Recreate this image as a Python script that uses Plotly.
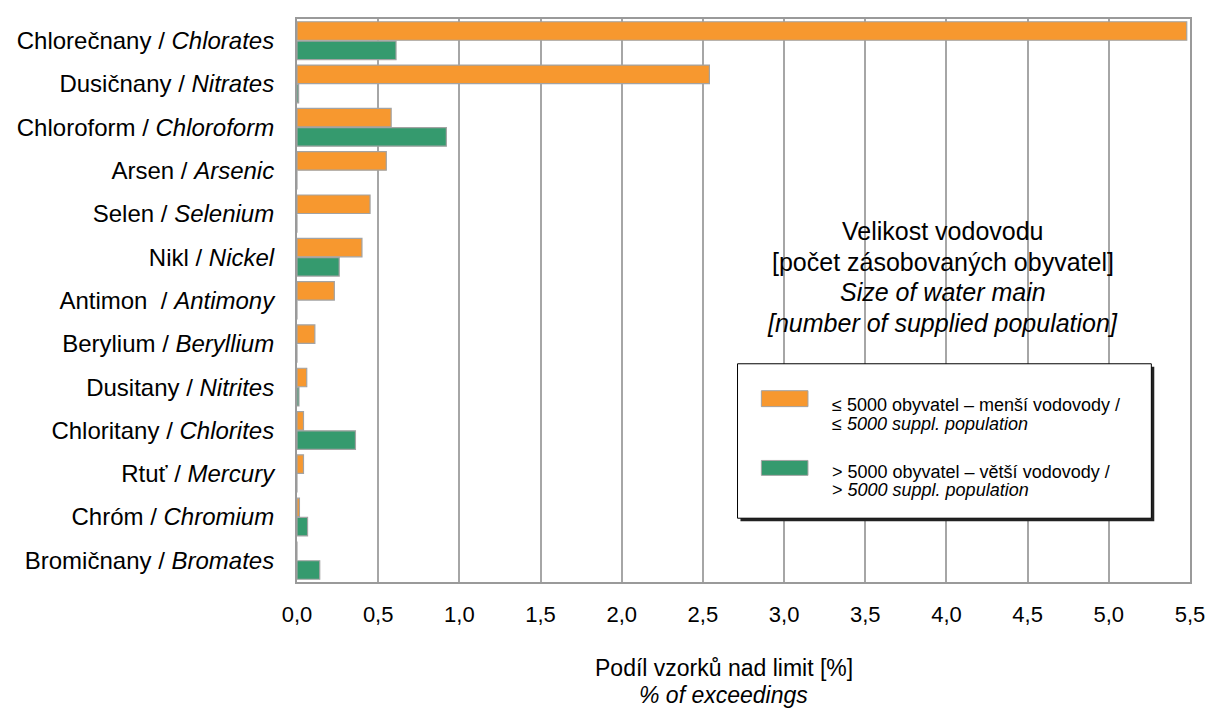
import plotly.graph_objects as go

# latky (shora dolu)
names_cs = ["Chlorečnany", "Dusičnany", "Chloroform", "Arsen", "Selen", "Nikl",
            "Antimon ", "Berylium", "Dusitany", "Chloritany", "Rtuť", "Chróm",
            "Bromičnany"]
names_en = ["Chlorates", "Nitrates", "Chloroform", "Arsenic", "Selenium", "Nickel",
            "Antimony", "Beryllium", "Nitrites", "Chlorites", "Mercury", "Chromium",
            "Bromates"]

# podil vzorku nad limit [%]
small_mains = [5.48, 2.54, 0.58, 0.55, 0.45, 0.40, 0.23, 0.11, 0.06, 0.04, 0.04, 0.015, 0.0]
large_mains = [0.61, 0.01, 0.92, 0.0, 0.0, 0.26, 0.0, 0.0, 0.012, 0.36, 0.0, 0.065, 0.14]

x_ticks = [0.0, 0.5, 1.0, 1.5, 2.0, 2.5, 3.0, 3.5, 4.0, 4.5, 5.0, 5.5]

labels = [f"{c} / <i>{e}</i>" for c, e in zip(names_cs, names_en)]

ORANGE = "#F7982F"
GREEN = "#359A6E"
EDGE = "#A3A3A3"
FONT = "Liberation Sans, Arial, sans-serif"

fig = go.Figure()
fig.add_trace(go.Bar(y=names_cs, x=small_mains, orientation="h",
                     marker=dict(color=ORANGE, line=dict(color=EDGE, width=1.2)),
                     name="≤ 5000"))
fig.add_trace(go.Bar(y=names_cs, x=large_mains, orientation="h",
                     marker=dict(color=GREEN, line=dict(color=EDGE, width=1.2)),
                     name="> 5000"))

# vlastni legenda (ramecek se stinem)
shapes = [
    dict(type="rect", xref="paper", yref="paper", x0=0.4966, x1=0.9600, y0=0.1080, y1=0.3823,
         fillcolor="#222222", line=dict(width=0), layer="above"),
    dict(type="rect", xref="paper", yref="paper", x0=0.4933, x1=0.9567, y0=0.1133, y1=0.3876,
         fillcolor="white", line=dict(color="black", width=1), layer="above"),
    dict(type="rect", xref="paper", yref="paper", x0=0.5200, x1=0.5722, y0=0.3115, y1=0.3398,
         fillcolor=ORANGE, line=dict(color=EDGE, width=1), layer="above"),
    dict(type="rect", xref="paper", yref="paper", x0=0.5200, x1=0.5722, y0=0.1894, y1=0.2159,
         fillcolor=GREEN, line=dict(color=EDGE, width=1), layer="above"),
]

leg_lines = [
    ("≤ 5000 obyvatel – menší vodovody /", 0.3150),
    ("≤ <i>5000 suppl. population</i>", 0.2814),
    ("> 5000 obyvatel – větší vodovody /", 0.1947),
    ("> <i>5000 suppl. population</i>", 0.1628),
]
annotations = [dict(text=t, x=0.5967, y=y, xref="paper", yref="paper", xanchor="left",
                    yanchor="middle", showarrow=False, font=dict(size=18, color="black"))
               for t, y in leg_lines]

size_lines = [
    ("Velikost vodovodu", 0.6230),
    ("[počet zásobovaných obyvatel]", 0.5681),
    ("<i>Size of water main</i>", 0.5150),
    ("<i>[number of supplied population]</i>", 0.4602),
]
for t, y in size_lines:
    annotations.append(dict(text=t, x=0.7233, y=y, xref="paper", yref="paper",
                            xanchor="center", yanchor="middle", showarrow=False,
                            font=dict(size=25, color="black")))

# popis osy x
for t, y in [("Podíl vzorků nad limit [%]", -0.1522), ("<i>% of exceedings</i>", -0.2000)]:
    annotations.append(dict(text=t, x=0.478, y=y, xref="paper", yref="paper",
                            xanchor="center", yanchor="middle", showarrow=False,
                            font=dict(size=23, color="black")))

fig.update_layout(
    width=1208, height=703,
    margin=dict(l=282, r=26, t=9, b=129),
    paper_bgcolor="white", plot_bgcolor="white",
    font=dict(family=FONT, color="black"),
    barmode="group", bargap=0.11, bargroupgap=0.04,
    showlegend=False,
    separators=", ",
    shapes=shapes,
    annotations=annotations,
)
fig.update_xaxes(range=[0, 5.5], tickvals=x_ticks, tickformat=".1f",
                 tickfont=dict(size=22), showgrid=True, gridcolor="#A6A6A6", gridwidth=1.5,
                 showline=True, mirror=True, linecolor="#9A9A9A", linewidth=2,
                 zeroline=False, ticks="", ticklabelstandoff=12)
fig.update_yaxes(autorange="reversed", tickvals=names_cs, ticktext=labels,
                 tickfont=dict(size=24), showgrid=False,
                 showline=True, mirror=True, linecolor="#9A9A9A", linewidth=2,
                 ticks="", ticklabelstandoff=16)

fig.write_html("out.html")
